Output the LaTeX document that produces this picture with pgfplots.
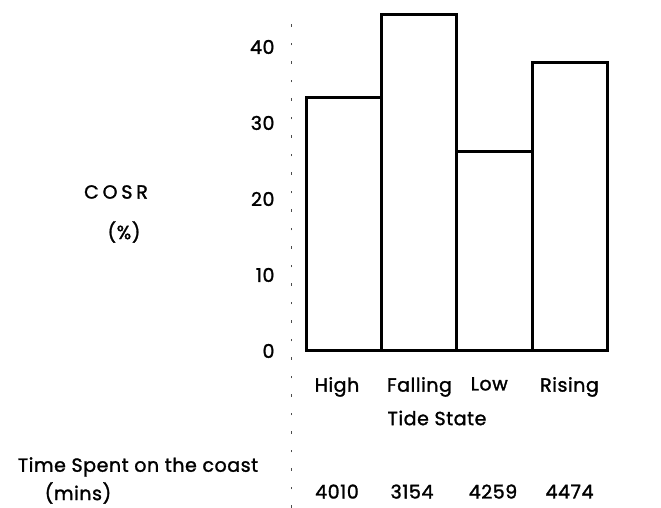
\documentclass[border=0pt]{standalone}
\usepackage{pgfplots}
\pgfplotsset{compat=1.18}
\usepackage{fontspec}
\setmainfont{Poppins}[FakeBold=1.5, LetterSpace=3]
\newcommand{\lab}{\fontsize{19}{22}\selectfont}
\begin{document}
\begin{tikzpicture}[x=1pt,y=1pt]
\useasboundingbox (0,0) rectangle (661,508);
\begin{axis}[
  at={(291pt,0pt)}, anchor=south west,
  scale only axis,
  width=323.5pt, height=495pt,
  xmin=-0.713, xmax=3.6,
  ymin=-20.66, ymax=44.47,
  axis x line=middle, axis y line=left,
  hide obscured x ticks=false, hide obscured y ticks=false,
  x axis line style={draw=none},
  y axis line style={-, black!70, line width=0.9pt, dash pattern=on 2.5pt off 16pt},
  xtick={-0.1,1,1.93,3},
  xticklabels={High,Falling,Low,Rising},
  ytick={0,10,20,30,40},
  major tick length=0pt,
  ticklabel style={font=\lab},
  /pgf/number format/assume math mode=true,
  yticklabel style={xshift=-13pt},
  xticklabel style={inner sep=0pt, yshift=-26pt},
  clip=false,
]
\addplot[ybar, bar width=1, fill=white, draw=black, line width=3pt]
  coordinates {(0,33.4) (1,44.3) (2,26.3) (3,37.9)};
\node[font=\lab] at (axis cs:-0.1,-18.5) {4010};
\node[font=\lab] at (axis cs:0.9,-18.5) {3154};
\node[font=\lab] at (axis cs:1.98,-18.5) {4259};
\node[font=\lab] at (axis cs:3,-18.5) {4474};
\end{axis}
\node[font=\lab\addfontfeature{LetterSpace=20}] at (116,316) {COSR};
\node[font=\lab] at (124,276) {(\%)};
\node[font=\lab] at (437,90) {Tide State};
\node[font=\lab] at (138,41) {Time Spent on the coast};
\node[font=\lab] at (78,15) {(mins)};
\end{tikzpicture}
\end{document}
